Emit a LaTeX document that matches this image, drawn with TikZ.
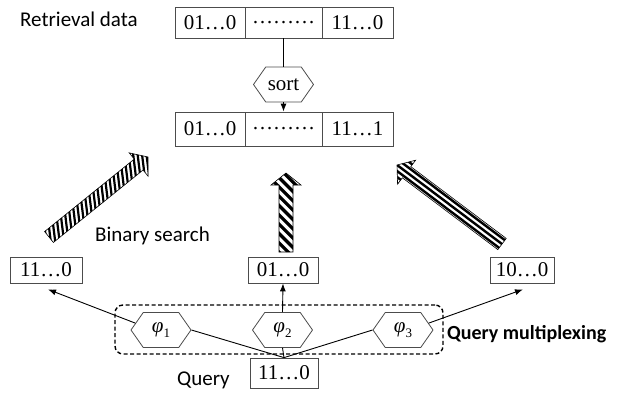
\documentclass[tikz,border=0pt]{standalone}
\usepackage{fontspec}
\setmainfont{Liberation Serif}
\newfontfamily\calfont{Carlito}
\usetikzlibrary{shapes.symbols,calc,arrows.meta}
\newcommand\arrowoutline[2]{%
  ($(#1)!7pt!90:(#2)$) -- ($(#1h)!7pt!90:(#2)$) -- ($(#1h)!15pt!90:(#2)$) -- (#2)
  -- ($(#1h)!15pt!-90:(#2)$) -- ($(#1h)!7pt!-90:(#2)$) -- ($(#1)!7pt!-90:(#2)$) -- cycle}
\newcommand\stripedarrow[5]{% tail, tip, stripe angle, period (pt), stripe width
  \coordinate (#1h) at ($(#2)!12pt!(#1)$);
  \coordinate (#1m) at ($(#1)!0.5!(#2)$);
  \begin{scope}
    \clip \arrowoutline{#1}{#2};
    \foreach \k in {-40,...,40}
      \draw[line width=#5]
        ($(#1m)+({#3+90}:{\k*#4 pt})+({#3}:150pt)$) -- ($(#1m)+({#3+90}:{\k*#4 pt})+({#3+180}:150pt)$);
  \end{scope}
  \draw[fat] \arrowoutline{#1}{#2};
}
\begin{document}
\begin{tikzpicture}[x=1pt,y=-1pt,
  cell/.style={draw=black!70, line width=0.8pt, inner sep=0pt, font=\fontsize{21}{21}\selectfont},
  box/.style={cell, minimum height=26pt},
  hexa/.style={signal, signal to=west and east, draw=black!70, line width=0.8pt,
    minimum width=60pt, minimum height=35pt, signal pointer angle=110, inner sep=0pt,
    font=\fontsize{21}{21}\selectfont},
  lbl/.style={font=\calfont\fontsize{21}{21}\selectfont, inner sep=0pt, anchor=base west},
  conn/.style={line width=0.9pt},
  arr/.style={conn, -{Latex[length=8pt,width=6pt]}},
  frame/.style={draw, line width=1.4pt, dash pattern=on 4pt off 2.5pt, rounded corners=8pt, inner sep=0pt},
  fat/.style={draw, line width=0.6pt}
]
\useasboundingbox (0,0) rectangle (626,392);

% top array
\node[cell, minimum width=70pt, minimum height=31pt] (t1) at (210,22.5) {01…0};
\node[cell, minimum width=77pt, minimum height=31pt] (t2) at (283.5,22.5) {………};
\node[cell, minimum width=71pt, minimum height=31pt] (t3) at (357.5,22.5) {11…0};
\node[lbl] (rd) at (20,26) {Retrieval data};

\node[hexa] (sort) at (283.5,84.5) {sort};

% sorted array
\node[cell, minimum width=70pt, minimum height=34pt] (s1) at (210,129) {01…0};
\node[cell, minimum width=77pt, minimum height=34pt] (s2) at (283.5,129) {………};
\node[cell, minimum width=71pt, minimum height=34pt] (s3) at (357.5,129) {11…1};

\draw[conn] (t2.south) -- (sort.north);
\draw[arr] (sort.south) -- (s2.north);

% striped arrows
\coordinate (la) at (49,237);
\coordinate (lb) at (148,157);
\coordinate (ma) at (286,252);
\coordinate (mb) at (286,173);
\coordinate (ra) at (502,244);
\coordinate (rb) at (397,165);
\stripedarrow{la}{lb}{97}{4.4}{2.2pt}
\stripedarrow{ma}{mb}{-45}{6.6}{3.2pt}
\stripedarrow{ra}{rb}{143}{4.8}{2.4pt}

\node[lbl] (bs) at (95,241) {Binary search};

% candidate results
\node[box, minimum width=72pt] (b1) at (46,270) {11…0};
\node[box, minimum width=70pt] (b2) at (283,270) {01…0};
\node[box, minimum width=64pt] (b3) at (522,270) {10…0};

% multiplexing
\node[frame, minimum width=328pt, minimum height=49pt] (mux) at (279,329.5) {};
\node[hexa] (p1) at (161,330) {\itshape φ\raisebox{-5pt}{\upshape\fontsize{13}{13}\selectfont 1}};
\node[hexa] (p2) at (282.5,330) {\itshape φ\raisebox{-5pt}{\upshape\fontsize{13}{13}\selectfont 2}};
\node[hexa] (p3) at (403,330) {\itshape φ\raisebox{-5pt}{\upshape\fontsize{13}{13}\selectfont 3}};
\node[lbl, font=\calfont\bfseries\fontsize{20}{20}\selectfont] (qm) at (447,339) {Query multiplexing};

% query
\node[box, minimum width=68pt, minimum height=30pt] (q) at (284,373) {11…0};
\node[lbl] (ql) at (177,385) {Query};

\draw[conn] (q.north) -- (p1.east);
\draw[conn] (q.north) -- (p3.west);
\draw[conn] (q.north) -- (p2.south);
\draw[arr] (p1.165) -- ($(b1.south)+(2,6)$);
\draw[arr] (p2.north) -- (b2.south);
\draw[arr] (p3.15) -- ($(b3.south)+(1,6)$);
\end{tikzpicture}
\end{document}
